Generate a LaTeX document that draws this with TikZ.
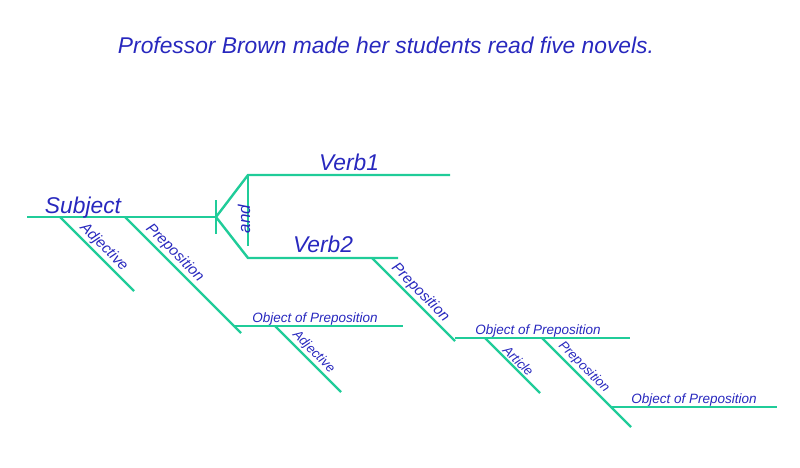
\documentclass[tikz,border=0pt]{standalone}
\usepackage{fontspec}
\setmainfont{Liberation Sans}
\definecolor{rulegreen}{RGB}{32,204,153}
\definecolor{wordblue}{RGB}{40,40,190}

\begin{document}
\begin{tikzpicture}[x=1pt,y=-1pt,
   rule/.style={draw=rulegreen,line width=2.4pt},
   word/.style={text=wordblue,font=\itshape\fontsize{22.8}{27}\selectfont,anchor=base,inner sep=0pt},
   minor/.style={text=wordblue,font=\itshape\fontsize{13.5}{16}\selectfont,anchor=base,inner sep=0pt},
   tag/.style={text=wordblue,font=\itshape\fontsize{15}{18}\selectfont,sloped,above,inner sep=1.5pt},
   smalltag/.style={tag,font=\itshape\fontsize{13.2}{15}\selectfont}]
   \useasboundingbox (0,0) rectangle (800,467);

   \node[word] (title) at (386,53) {Professor Brown made her students read five novels.};

   \coordinate (s0) at (27,217);   \coordinate (s1) at (216,217);
   \coordinate (t0) at (216,200);  \coordinate (t1) at (216,234);
   \coordinate (v1a) at (248,175); \coordinate (v1b) at (450,175);
   \coordinate (v2a) at (248,258); \coordinate (v2b) at (398,258);
   \coordinate (c1) at (248,246);
   \coordinate (j1a) at (60,217);  \coordinate (j1b) at (134,291);
   \coordinate (p1a) at (125,217); \coordinate (p1b) at (241,333);
   \coordinate (o1a) at (233,326); \coordinate (o1b) at (403,326);
   \coordinate (j2a) at (275,326); \coordinate (j2b) at (341,392);
   \coordinate (p2a) at (372,258); \coordinate (p2b) at (455,341);
   \coordinate (o2a) at (455,338); \coordinate (o2b) at (630,338);
   \coordinate (r2a) at (485,338); \coordinate (r2b) at (540,393);
   \coordinate (p3a) at (542,338); \coordinate (p3b) at (631,427);
   \coordinate (o3a) at (612,407); \coordinate (o3b) at (777,407);

   \draw[rule] (s0) -- (s1);
   \draw[rule] (t0) -- (t1);
   \draw[rule] (v1b) -- (v1a) -- (s1) -- (v2a) -- (v2b);
   \draw[rule] (v1a) -- (c1);
   \draw[rule] (o1a) -- (o1b);
   \draw[rule] (o2a) -- (o2b);
   \draw[rule] (o3a) -- (o3b);

   \draw[rule] (j1a) -- node[tag,pos=.5] (adj1) {Adjective} (j1b);
   \draw[rule] (p1a) -- node[tag,pos=.37] (prep1) {Preposition} (p1b);
   \draw[rule] (j2a) -- node[smalltag,pos=.49] (adj2) {Adjective} (j2b);
   \draw[rule] (p2a) -- node[tag,pos=.5] (prep2) {Preposition} (p2b);
   \draw[rule] (r2a) -- node[smalltag,pos=.51] (art2) {Article} (r2b);
   \draw[rule] (p3a) -- node[smalltag,pos=.4] (prep3) {Preposition} (p3b);

   \node[word] (subj) at (83,213) {Subject};
   \node[word] (verb1) at (349,170) {Verb1};
   \node[word] (verb2) at (323,252) {Verb2};
   \node[word,font=\itshape\fontsize{17}{20}\selectfont,rotate=90] (and) at (250,219) {and};
   \node[minor] (obj1) at (315,322) {Object of Preposition};
   \node[minor] (obj2) at (538,334) {Object of Preposition};
   \node[minor] (obj3) at (694,403) {Object of Preposition};

\end{tikzpicture}
\end{document}
